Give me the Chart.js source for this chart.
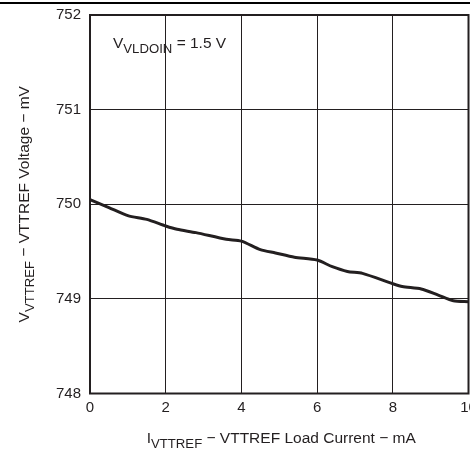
<!DOCTYPE html>
<html>
<head>
<meta charset="UTF-8">
<title>VTTREF Load Regulation</title>
<script src="https://cdn.jsdelivr.net/npm/chart.js@4"></script>
<style>
    html, body { margin: 0; padding: 0; background: #fff; }
    #chart { display: block; }
</style>
</head>
<body>
<canvas id="chart" width="470" height="450"></canvas>
<script>
// values
var currentMA = [0, 0.5, 1.0, 1.5, 2.0, 2.3, 2.8, 3.6, 4.0, 4.5, 4.9, 5.4, 6.0, 6.4, 6.8, 7.2, 8.0, 8.25, 8.75, 9.2, 9.6, 10];
var voltageMV = [750.05, 749.965, 749.88, 749.84, 749.77, 749.735, 749.70, 749.63, 749.61, 749.52, 749.485, 749.44, 749.41, 749.34, 749.29, 749.27, 749.16, 749.13, 749.105, 749.04, 748.98, 748.97];
var xTicks = [0, 2, 4, 6, 8, 10];
var yTicks = [748, 749, 750, 751, 752];

var FONT = '"Liberation Sans", Arial, sans-serif';
var INK = '#231f20';

// text with subscript part: [[text, isSub], ...]
function drawRich(ctx, parts, x, y, size, align) {
    var total = 0;
    parts.forEach(function (p) {
        ctx.font = (p[1] ? size * 0.85 : size) + 'px ' + FONT;
        total += ctx.measureText(p[0]).width;
    });
    var cx = align === 'center' ? x - total / 2 : x;
    ctx.textAlign = 'left';
    ctx.textBaseline = 'alphabetic';
    parts.forEach(function (p) {
        ctx.font = (p[1] ? size * 0.85 : size) + 'px ' + FONT;
        ctx.fillText(p[0], cx, p[1] ? y + size * 0.3 : y);
        cx += ctx.measureText(p[0]).width;
    });
}

var decor = {
    id: 'decor',
    beforeDraw: function (chart) {
        var ctx = chart.ctx;
        ctx.save();
        ctx.strokeStyle = '#000';
        ctx.lineWidth = 2;
        ctx.beginPath();
        ctx.moveTo(0, 3);
        ctx.lineTo(470, 3);
        ctx.stroke();
        ctx.restore();
    },
    afterDraw: function (chart) {
        var ctx = chart.ctx, a = chart.chartArea;
        ctx.save();
        ctx.strokeStyle = INK;
        ctx.lineWidth = 2;
        ctx.strokeRect(a.left, a.top, a.right - a.left, a.bottom - a.top);
        ctx.fillStyle = INK;
        drawRich(ctx, [['I', false], ['VTTREF', true], [' \u2212 VTTREF Load Current \u2212 mA', false]],
            (a.left + a.right) / 2 + 2, 443, 15.5, 'center');
        ctx.translate(29, (a.top + a.bottom) / 2);
        ctx.rotate(-Math.PI / 2);
        drawRich(ctx, [['V', false], ['VTTREF', true], [' \u2212 VTTREF Voltage \u2212 mV', false]],
            0, 0, 15.5, 'center');
        ctx.restore();
        ctx.save();
        ctx.fillStyle = INK;
        drawRich(ctx, [['V', false], ['VLDOIN', true], [' = 1.5 V', false]], 113, 48, 15.5, 'left');
        ctx.restore();
    }
};

var ctx = document.getElementById('chart').getContext('2d');
var theChart = new Chart(ctx, {
    type: 'line',
    data: {
        datasets: [{
            data: currentMA.map(function (x, i) { return { x: x, y: voltageMV[i] }; }),
            borderColor: INK,
            borderWidth: 3,
            pointRadius: 0,
            tension: 0.25,
            fill: false
        }]
    },
    options: {
        responsive: false,
        animation: false,
        devicePixelRatio: 1,
        layout: { padding: { top: 15, right: 1.5, left: 0, bottom: 0 } },
        plugins: { legend: { display: false }, tooltip: { enabled: false } },
        scales: {
            x: {
                type: 'linear',
                min: 0, max: 10,
                afterBuildTicks: function (s) { s.ticks = xTicks.map(function (v) { return { value: v }; }); },
                afterFit: function (s) { s.height = 56.5; s.paddingLeft = 0; s.paddingRight = 0; },
                grid: { color: INK, lineWidth: 1, drawTicks: false },
                border: { display: false },
                ticks: { color: INK, padding: 5, font: { family: FONT, size: 15 }, maxRotation: 0 }
            },
            y: {
                min: 748, max: 752,
                afterBuildTicks: function (s) { s.ticks = yTicks.map(function (v) { return { value: v }; }); },
                afterFit: function (s) { s.width = 90; s.paddingTop = 0; s.paddingBottom = 0; },
                grid: { color: INK, lineWidth: 1, drawTicks: false },
                border: { display: false },
                ticks: { color: INK, padding: 9, font: { family: FONT, size: 15 } }
            }
        }
    },
    plugins: [decor]
});
</script>
</body>
</html>
